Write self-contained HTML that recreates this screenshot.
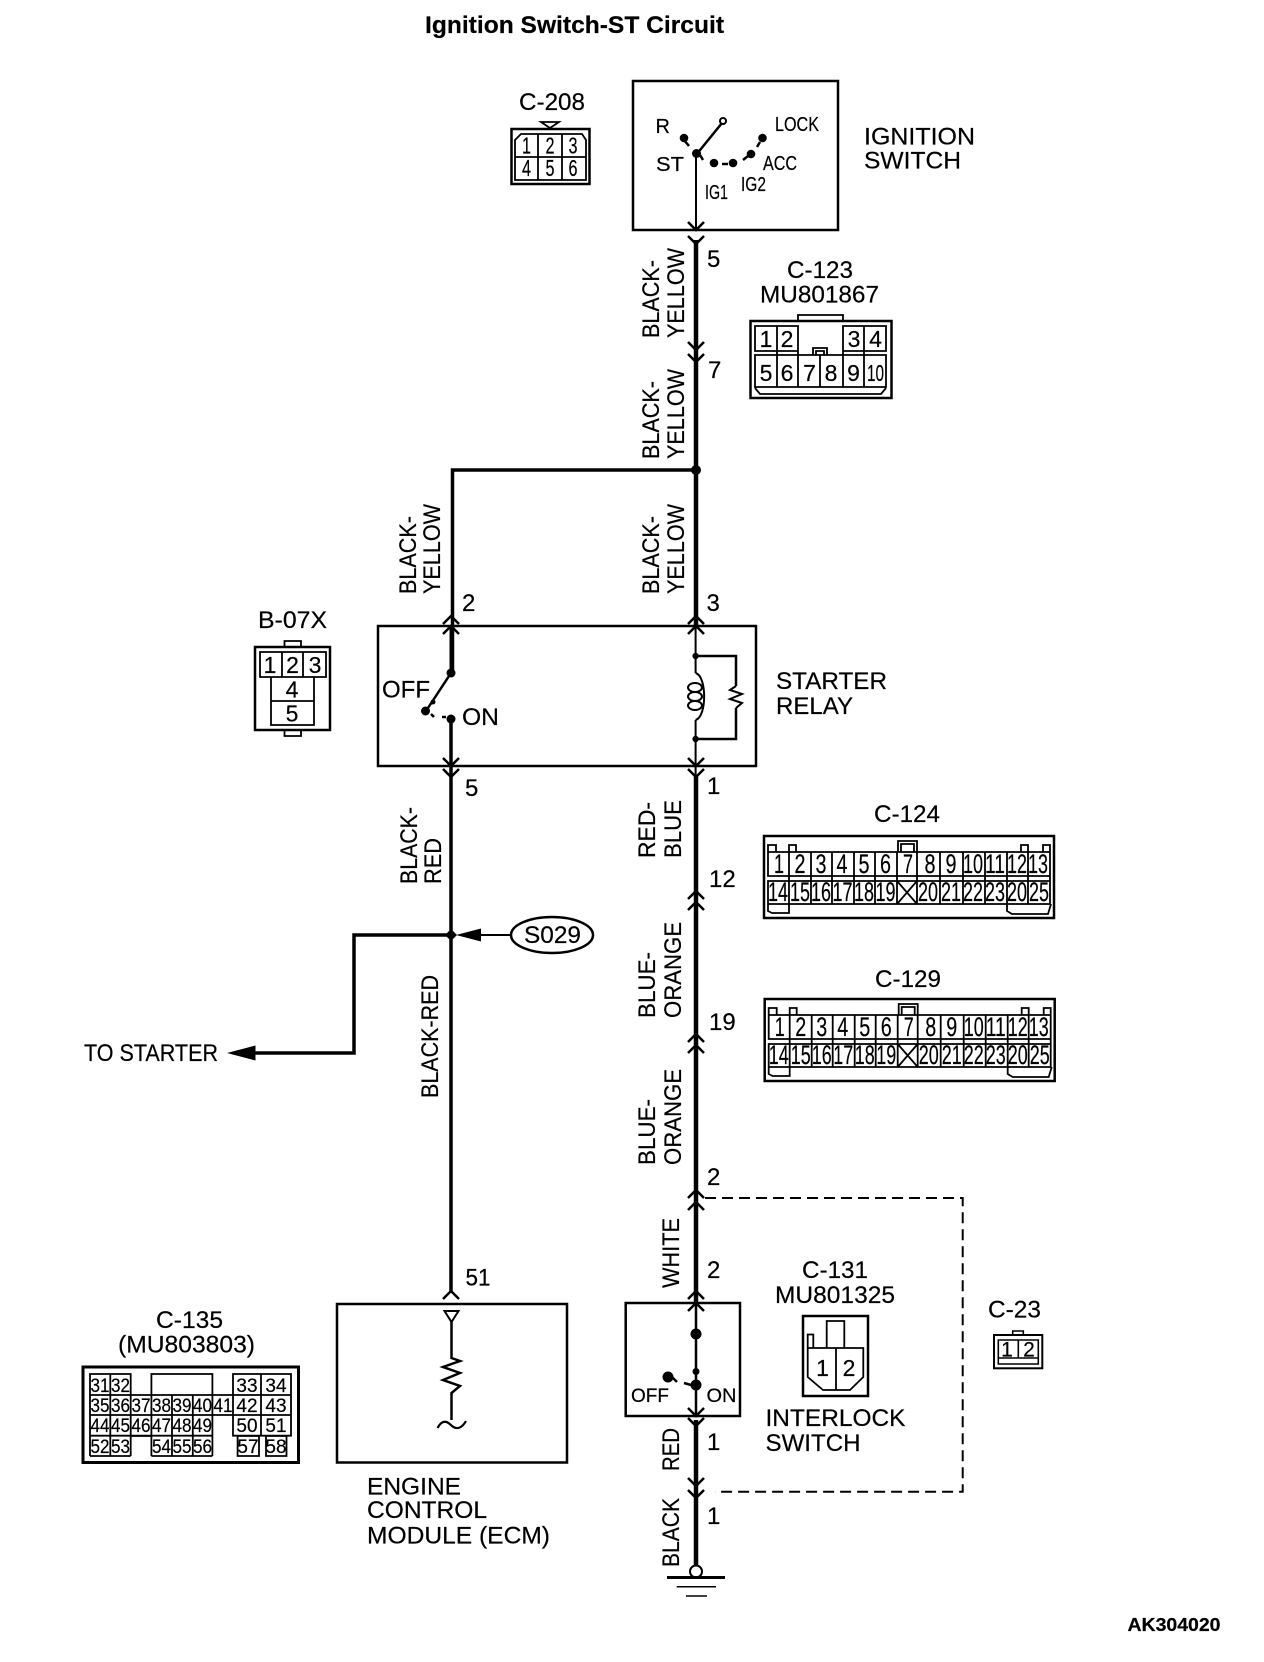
<!DOCTYPE html>
<html><head><meta charset="utf-8"><title>Ignition Switch-ST Circuit</title>
<style>
html,body{margin:0;padding:0;background:#fff}
svg{display:block}
text{font-family:"Liberation Sans",Arial,sans-serif;fill:#000;stroke:#000;stroke-width:.2}
.l{font-size:24px}.m{font-size:20px}.d{font-size:23px;text-anchor:middle}.s{font-size:19px;text-anchor:middle}
.h{font-size:27px;text-anchor:middle}
.g{fill:none;stroke:#000}
</style></head><body>
<svg width="1264" height="1662" viewBox="0 0 1264 1662" xmlns="http://www.w3.org/2000/svg">
<rect width="1264" height="1662" fill="#fff"/>
<text x="425" y="33" font-size="24" font-weight="bold" textLength="299" lengthAdjust="spacingAndGlyphs">Ignition Switch-ST Circuit</text>

<!-- wires -->
<path class="g" stroke-width="4.5" d="M696 240V626M696 776V1303M696 1420V1567"/>
<path class="g" stroke-width="3.5" d="M696 470H452.5V673M451 719V935V1291"/>
<circle cx="696" cy="470" r="5"/>

<!-- chevrons -->
<path class="g" stroke-width="2.5" d="M688 222L696 230L704 222M688 236L696 244L704 236M688 342L696 350L704 342M688 354L696 362L704 354
M443 624L451 616L459 624M443 634L451 626L459 634M688 624L696 616L704 624M688 634L696 626L704 634
M443 758L451 766L459 758M443 769L451 777L459 769M688 758L696 766L704 758M688 769L696 777L704 769
M688 899L696 891L704 899M688 910L696 902L704 910M688 1042L696 1034L704 1042M688 1053L696 1045L704 1053
M688 1198L696 1190L704 1198M688 1210L696 1202L704 1210M688 1299L696 1291L704 1299M688 1311L696 1303L704 1311
M688 1408L696 1416L704 1408M688 1418L696 1426L704 1418M688 1478L696 1486L704 1478M688 1490L696 1498L704 1490
M443 1299L451 1291L459 1299"/>

<!-- ignition switch -->
<rect class="g" stroke-width="2.5" x="633" y="81" width="205" height="149"/>
<path class="g" stroke-width="2" d="M696 153V230"/>
<path class="g" stroke-width="2.5" d="M696 155L722 123M684 140L689 146M700 155L703 160M722 164H728M743 160L748 156M757 147L760 142"/>
<circle cx="696.5" cy="153.5" r="4.5"/><circle cx="684" cy="138" r="4.3"/><circle cx="714" cy="163" r="4.3"/><circle cx="733" cy="163" r="4.3"/><circle cx="751" cy="154" r="4.3"/><circle cx="762.5" cy="138" r="4.3"/>
<circle class="g" fill="#fff" stroke-width="2" cx="723" cy="121" r="3"/>
<text class="m" x="655.5" y="133">R</text>
<text class="m" x="775" y="131" textLength="44" lengthAdjust="spacingAndGlyphs">LOCK</text>
<text class="m" x="656" y="171" textLength="28" lengthAdjust="spacingAndGlyphs">ST</text>
<text class="m" x="763" y="170" textLength="34" lengthAdjust="spacingAndGlyphs">ACC</text>
<text class="m" x="741" y="191" textLength="25" lengthAdjust="spacingAndGlyphs">IG2</text>
<text class="m" x="705" y="199" textLength="23" lengthAdjust="spacingAndGlyphs">IG1</text>
<text class="l" x="864" y="144.5" textLength="111" lengthAdjust="spacingAndGlyphs">IGNITION</text>
<text class="l" x="864" y="168.5" textLength="97" lengthAdjust="spacingAndGlyphs">SWITCH</text>

<!-- C-208 -->
<text class="l" x="519" y="110" textLength="66" lengthAdjust="spacingAndGlyphs">C-208</text>
<path class="g" stroke-width="1.8" d="M541 122H559L550 128Z"/>
<rect class="g" stroke-width="2.5" x="511.5" y="129" width="78" height="55"/>
<path class="g" stroke-width="1.8" d="M515 180V140L521 134H582L586 140V180ZM515 157H586M538 134V180M562 134V180"/>
<text class="d" x="526.5" y="153.5" textLength="9" lengthAdjust="spacingAndGlyphs">1</text>
<text class="d" x="550" y="153.5" textLength="9" lengthAdjust="spacingAndGlyphs">2</text>
<text class="d" x="573" y="153.5" textLength="9" lengthAdjust="spacingAndGlyphs">3</text>
<text class="d" x="526.5" y="176" textLength="9" lengthAdjust="spacingAndGlyphs">4</text>
<text class="d" x="550" y="176" textLength="9" lengthAdjust="spacingAndGlyphs">5</text>
<text class="d" x="573" y="176" textLength="9" lengthAdjust="spacingAndGlyphs">6</text>

<!-- C-123 -->
<text class="l" x="707" y="267">5</text>
<text class="l" x="708" y="378">7</text>
<text class="l" x="787" y="278" textLength="66" lengthAdjust="spacingAndGlyphs">C-123</text>
<text class="l" x="760" y="302.5" textLength="119" lengthAdjust="spacingAndGlyphs">MU801867</text>
<rect class="g" stroke-width="2.5" x="750.5" y="321" width="141" height="77"/>
<path class="g" stroke-width="1.8" d="M798 321V315H843V321M755 326H798V351H755ZM777 326V351M843 326H886V351H843ZM864 326V351M755 355H886V387H755ZM777 351V387M798 351V387M820 355V387M843 351V387M864 351V387M755 388L760 394H881L886 388M813 355V348H827V355M816 355V351H824V355"/>
<text class="d" x="766" y="347">1</text><text class="d" x="787" y="347">2</text><text class="d" x="854" y="347">3</text><text class="d" x="875.5" y="347">4</text>
<text class="d" x="766" y="381">5</text><text class="d" x="787" y="381">6</text><text class="d" x="809.5" y="381">7</text><text class="d" x="831" y="381">8</text><text class="d" x="853.5" y="381">9</text><text class="d" x="875.5" y="381" textLength="17" lengthAdjust="spacingAndGlyphs">10</text>

<!-- rotated wire labels -->
<g>
<text class="l" transform="translate(659,338) rotate(-90)" textLength="78" lengthAdjust="spacingAndGlyphs">BLACK-</text>
<text class="l" transform="translate(684,338) rotate(-90)" textLength="90" lengthAdjust="spacingAndGlyphs">YELLOW</text>
<text class="l" transform="translate(659,459) rotate(-90)" textLength="78" lengthAdjust="spacingAndGlyphs">BLACK-</text>
<text class="l" transform="translate(684,459) rotate(-90)" textLength="90" lengthAdjust="spacingAndGlyphs">YELLOW</text>
<text class="l" transform="translate(659,594) rotate(-90)" textLength="78" lengthAdjust="spacingAndGlyphs">BLACK-</text>
<text class="l" transform="translate(684,594) rotate(-90)" textLength="90" lengthAdjust="spacingAndGlyphs">YELLOW</text>
<text class="l" transform="translate(416,594) rotate(-90)" textLength="78" lengthAdjust="spacingAndGlyphs">BLACK-</text>
<text class="l" transform="translate(440,594) rotate(-90)" textLength="90" lengthAdjust="spacingAndGlyphs">YELLOW</text>
<text class="l" transform="translate(417,884) rotate(-90)" textLength="77" lengthAdjust="spacingAndGlyphs">BLACK-</text>
<text class="l" transform="translate(441,884) rotate(-90)" textLength="46" lengthAdjust="spacingAndGlyphs">RED</text>
<text class="l" transform="translate(438,1098) rotate(-90)" textLength="123" lengthAdjust="spacingAndGlyphs">BLACK-RED</text>
<text class="l" transform="translate(655,858) rotate(-90)" textLength="56" lengthAdjust="spacingAndGlyphs">RED-</text>
<text class="l" transform="translate(681,858) rotate(-90)" textLength="58" lengthAdjust="spacingAndGlyphs">BLUE</text>
<text class="l" transform="translate(655,1018) rotate(-90)" textLength="66" lengthAdjust="spacingAndGlyphs">BLUE-</text>
<text class="l" transform="translate(681,1018) rotate(-90)" textLength="96" lengthAdjust="spacingAndGlyphs">ORANGE</text>
<text class="l" transform="translate(655,1165) rotate(-90)" textLength="66" lengthAdjust="spacingAndGlyphs">BLUE-</text>
<text class="l" transform="translate(681,1165) rotate(-90)" textLength="96" lengthAdjust="spacingAndGlyphs">ORANGE</text>
<text class="l" transform="translate(679,1288) rotate(-90)" textLength="70" lengthAdjust="spacingAndGlyphs">WHITE</text>
<text class="l" transform="translate(679,1471) rotate(-90)" textLength="43" lengthAdjust="spacingAndGlyphs">RED</text>
<text class="l" transform="translate(679,1567) rotate(-90)" textLength="69" lengthAdjust="spacingAndGlyphs">BLACK</text>
</g>

<!-- starter relay -->
<rect class="g" stroke-width="2.5" x="378" y="626" width="378" height="140"/>
<path class="g" stroke-width="3" d="M451 626V673M451 719V777"/>
<path class="g" stroke-width="2.5" d="M451 673L426 711M431 714L434 717M442 717H446"/>
<circle cx="451" cy="673" r="4.5"/><circle cx="425.5" cy="711" r="4.5"/><circle cx="433" cy="702" r="2.5"/><circle cx="451" cy="719" r="4.5"/>
<text class="l" x="382" y="697.5" textLength="48" lengthAdjust="spacingAndGlyphs">OFF</text>
<text class="l" x="462" y="725" textLength="37" lengthAdjust="spacingAndGlyphs">ON</text>
<text class="l" x="462" y="611">2</text><text class="l" x="706.5" y="611">3</text>
<text class="l" x="465" y="796">5</text><text class="l" x="707" y="794">1</text>
<path class="g" stroke-width="2" d="M695.6 626V673M695.6 720V777"/>
<path class="g" stroke-width="2.5" d="M695.6 656H736V686M736 708V739H695.6"/>
<path class="g" stroke-width="2" d="M695.6 673C707 676 707 717 695.6 720M736 686L730 690L742 694L730 699L742 703L736 708"/>
<ellipse class="g" stroke-width="2" cx="695" cy="687.5" rx="7" ry="4.5"/><ellipse class="g" stroke-width="2" cx="695" cy="696.5" rx="7" ry="4.5"/><ellipse class="g" stroke-width="2" cx="695" cy="705.5" rx="7" ry="4.5"/>
<circle cx="695.6" cy="656" r="3.2"/><circle cx="695.6" cy="739" r="3.2"/>
<text class="l" x="776" y="689" textLength="111" lengthAdjust="spacingAndGlyphs">STARTER</text>
<text class="l" x="776" y="714" textLength="77" lengthAdjust="spacingAndGlyphs">RELAY</text>

<!-- B-07X -->
<text class="l" x="258" y="628" textLength="69" lengthAdjust="spacingAndGlyphs">B-07X</text>
<rect class="g" stroke-width="2.5" x="255" y="647" width="75" height="83"/>
<path class="g" stroke-width="1.8" d="M284.5 647V641H301V647M284.5 730V736H301V730M260 652H326V677H260ZM282 652V677M303 652V677M271 677V725H314V677M271 701H314"/>
<text class="d" x="270" y="673">1</text><text class="d" x="292.5" y="673">2</text><text class="d" x="315" y="673">3</text>
<text class="d" x="292" y="697.5">4</text><text class="d" x="292" y="721.5">5</text>

<!-- C-124 -->
<text class="l" x="874" y="822" textLength="66" lengthAdjust="spacingAndGlyphs">C-124</text>
<g>
<rect class="g" stroke-width="2.5" x="764" y="836" width="290" height="82"/>
<path class="g" stroke-width="1.8" d="M768 852V845H776V852M789 852V845H796V852M1021 852V845H1028V852M1043 852V845H1050V852M898 852V841H917V852M901 852V844H914V852
M768 852H1050V876H768ZM768 881H1050V904H768ZM789 852V904M811 852V904M832 852V904M854 852V904M875 852V904M897 852V904M917 852V904M940 852V904M963 852V904M985 852V904M1007 852V904M1028 852V904M1050 852V904M897 881L917 904M917 881L897 904
M768 904V911L772 913H789V904M1007 904V911L1012 914H1048L1051 904"/>
<text class="h" x="779" y="873" textLength="10" lengthAdjust="spacingAndGlyphs">1</text><text class="h" x="800" y="873" textLength="11" lengthAdjust="spacingAndGlyphs">2</text><text class="h" x="821" y="873" textLength="11" lengthAdjust="spacingAndGlyphs">3</text><text class="h" x="842" y="873" textLength="11" lengthAdjust="spacingAndGlyphs">4</text><text class="h" x="864" y="873" textLength="11" lengthAdjust="spacingAndGlyphs">5</text><text class="h" x="885.5" y="873" textLength="11" lengthAdjust="spacingAndGlyphs">6</text><text class="h" x="908" y="873" textLength="10" lengthAdjust="spacingAndGlyphs">7</text><text class="h" x="930" y="873" textLength="11" lengthAdjust="spacingAndGlyphs">8</text><text class="h" x="951" y="873" textLength="11" lengthAdjust="spacingAndGlyphs">9</text><text class="h" x="973" y="873" textLength="20" lengthAdjust="spacingAndGlyphs">10</text><text class="h" x="995" y="873" textLength="20" lengthAdjust="spacingAndGlyphs">11</text><text class="h" x="1017" y="873" textLength="20" lengthAdjust="spacingAndGlyphs">12</text><text class="h" x="1038" y="873" textLength="20" lengthAdjust="spacingAndGlyphs">13</text>
<text class="h" x="778" y="901" textLength="20" lengthAdjust="spacingAndGlyphs">14</text><text class="h" x="800" y="901" textLength="20" lengthAdjust="spacingAndGlyphs">15</text><text class="h" x="821" y="901" textLength="20" lengthAdjust="spacingAndGlyphs">16</text><text class="h" x="842.5" y="901" textLength="20" lengthAdjust="spacingAndGlyphs">17</text><text class="h" x="864" y="901" textLength="20" lengthAdjust="spacingAndGlyphs">18</text><text class="h" x="885.5" y="901" textLength="20" lengthAdjust="spacingAndGlyphs">19</text><text class="h" x="928" y="901" textLength="20" lengthAdjust="spacingAndGlyphs">20</text><text class="h" x="951" y="901" textLength="20" lengthAdjust="spacingAndGlyphs">21</text><text class="h" x="973" y="901" textLength="20" lengthAdjust="spacingAndGlyphs">22</text><text class="h" x="995" y="901" textLength="20" lengthAdjust="spacingAndGlyphs">23</text><text class="h" x="1017" y="901" textLength="20" lengthAdjust="spacingAndGlyphs">20</text><text class="h" x="1039" y="901" textLength="20" lengthAdjust="spacingAndGlyphs">25</text>
</g>

<!-- C-129 -->
<text class="l" x="875" y="987" textLength="66" lengthAdjust="spacingAndGlyphs">C-129</text>
<g transform="translate(0.7,163)">
<rect class="g" stroke-width="2.5" x="764" y="836" width="290" height="82"/>
<path class="g" stroke-width="1.8" d="M768 852V845H776V852M789 852V845H796V852M1021 852V845H1028V852M1043 852V845H1050V852M898 852V841H917V852M901 852V844H914V852
M768 852H1050V876H768ZM768 881H1050V904H768ZM789 852V904M811 852V904M832 852V904M854 852V904M875 852V904M897 852V904M917 852V904M940 852V904M963 852V904M985 852V904M1007 852V904M1028 852V904M1050 852V904M897 881L917 904M917 881L897 904
M768 904V911L772 913H789V904M1007 904V911L1012 914H1048L1051 904"/>
<text class="h" x="779" y="873" textLength="10" lengthAdjust="spacingAndGlyphs">1</text><text class="h" x="800" y="873" textLength="11" lengthAdjust="spacingAndGlyphs">2</text><text class="h" x="821" y="873" textLength="11" lengthAdjust="spacingAndGlyphs">3</text><text class="h" x="842" y="873" textLength="11" lengthAdjust="spacingAndGlyphs">4</text><text class="h" x="864" y="873" textLength="11" lengthAdjust="spacingAndGlyphs">5</text><text class="h" x="885.5" y="873" textLength="11" lengthAdjust="spacingAndGlyphs">6</text><text class="h" x="908" y="873" textLength="10" lengthAdjust="spacingAndGlyphs">7</text><text class="h" x="930" y="873" textLength="11" lengthAdjust="spacingAndGlyphs">8</text><text class="h" x="951" y="873" textLength="11" lengthAdjust="spacingAndGlyphs">9</text><text class="h" x="973" y="873" textLength="20" lengthAdjust="spacingAndGlyphs">10</text><text class="h" x="995" y="873" textLength="20" lengthAdjust="spacingAndGlyphs">11</text><text class="h" x="1017" y="873" textLength="20" lengthAdjust="spacingAndGlyphs">12</text><text class="h" x="1038" y="873" textLength="20" lengthAdjust="spacingAndGlyphs">13</text>
<text class="h" x="778" y="901" textLength="20" lengthAdjust="spacingAndGlyphs">14</text><text class="h" x="800" y="901" textLength="20" lengthAdjust="spacingAndGlyphs">15</text><text class="h" x="821" y="901" textLength="20" lengthAdjust="spacingAndGlyphs">16</text><text class="h" x="842.5" y="901" textLength="20" lengthAdjust="spacingAndGlyphs">17</text><text class="h" x="864" y="901" textLength="20" lengthAdjust="spacingAndGlyphs">18</text><text class="h" x="885.5" y="901" textLength="20" lengthAdjust="spacingAndGlyphs">19</text><text class="h" x="928" y="901" textLength="20" lengthAdjust="spacingAndGlyphs">20</text><text class="h" x="951" y="901" textLength="20" lengthAdjust="spacingAndGlyphs">21</text><text class="h" x="973" y="901" textLength="20" lengthAdjust="spacingAndGlyphs">22</text><text class="h" x="995" y="901" textLength="20" lengthAdjust="spacingAndGlyphs">23</text><text class="h" x="1017" y="901" textLength="20" lengthAdjust="spacingAndGlyphs">20</text><text class="h" x="1039" y="901" textLength="20" lengthAdjust="spacingAndGlyphs">25</text>
</g>
<text class="l" x="709" y="887">12</text>
<text class="l" x="709" y="1030">19</text>
<text class="l" x="707" y="1185">2</text>
<text class="l" x="707" y="1278">2</text>
<text class="l" x="707" y="1450">1</text>
<text class="l" x="707" y="1524">1</text>

<!-- S029 & to starter -->
<path class="g" stroke-width="3.5" d="M451 935H354V1053H250"/>
<path d="M451 929L457 935L451 941L445 935Z"/>
<path d="M456 935L481 928.5V941.5Z"/>
<path class="g" stroke-width="2" d="M480 935H511"/>
<ellipse class="g" stroke-width="2.5" cx="552" cy="935" rx="41" ry="18"/>
<text class="l" x="524" y="943" textLength="57" lengthAdjust="spacingAndGlyphs">S029</text>
<path d="M227 1053L255.5 1045.5V1060.5Z"/>
<text class="l" x="84" y="1061" textLength="134" lengthAdjust="spacingAndGlyphs">TO STARTER</text>

<!-- C-135 -->
<text class="l" x="156" y="1328" textLength="67" lengthAdjust="spacingAndGlyphs">C-135</text>
<text class="l" x="118" y="1352.5" textLength="137" lengthAdjust="spacingAndGlyphs">(MU803803)</text>
<rect class="g" stroke-width="3" x="83" y="1367" width="215.5" height="95.5"/>
<path class="g" stroke-width="1.8" d="M90 1374H130.7V1395H90ZM110.3 1374V1395M151.4 1374H212.4V1395H151.4ZM233 1374H291V1435.7H233ZM261 1374V1435.7M233 1395H291M233 1415H291
M90 1395H233M90 1415H233M90 1395V1456M110.3 1395V1456M130.7 1395V1456M151.4 1395V1456M172 1395V1456M192.8 1395V1456M212.4 1395V1456M233 1395V1415M90 1435.7H212.4M90 1456H130.7M151.4 1456H212.4M130.7 1436H151.4
M237.6 1436H259V1456H237.6ZM266 1436H286.5V1456H266Z"/>
<text class="s" x="100" y="1392" textLength="19" lengthAdjust="spacingAndGlyphs">31</text><text class="s" x="120.5" y="1392" textLength="19" lengthAdjust="spacingAndGlyphs">32</text><text class="s" x="247" y="1392">33</text><text class="s" x="276" y="1392">34</text>
<text class="s" x="100" y="1412" textLength="19" lengthAdjust="spacingAndGlyphs">35</text><text class="s" x="120.5" y="1412" textLength="19" lengthAdjust="spacingAndGlyphs">36</text><text class="s" x="141" y="1412" textLength="19" lengthAdjust="spacingAndGlyphs">37</text><text class="s" x="161.5" y="1412" textLength="19" lengthAdjust="spacingAndGlyphs">38</text><text class="s" x="182" y="1412" textLength="19" lengthAdjust="spacingAndGlyphs">39</text><text class="s" x="202.5" y="1412" textLength="19" lengthAdjust="spacingAndGlyphs">40</text><text class="s" x="223" y="1412" textLength="19" lengthAdjust="spacingAndGlyphs">41</text><text class="s" x="247" y="1412">42</text><text class="s" x="276" y="1412">43</text>
<text class="s" x="100" y="1432" textLength="19" lengthAdjust="spacingAndGlyphs">44</text><text class="s" x="120.5" y="1432" textLength="19" lengthAdjust="spacingAndGlyphs">45</text><text class="s" x="141" y="1432" textLength="19" lengthAdjust="spacingAndGlyphs">46</text><text class="s" x="161.5" y="1432" textLength="19" lengthAdjust="spacingAndGlyphs">47</text><text class="s" x="182" y="1432" textLength="19" lengthAdjust="spacingAndGlyphs">48</text><text class="s" x="202.5" y="1432" textLength="19" lengthAdjust="spacingAndGlyphs">49</text><text class="s" x="247" y="1432">50</text><text class="s" x="276" y="1432">51</text>
<text class="s" x="100" y="1453" textLength="19" lengthAdjust="spacingAndGlyphs">52</text><text class="s" x="120.5" y="1453" textLength="19" lengthAdjust="spacingAndGlyphs">53</text><text class="s" x="161.5" y="1453" textLength="19" lengthAdjust="spacingAndGlyphs">54</text><text class="s" x="182" y="1453" textLength="19" lengthAdjust="spacingAndGlyphs">55</text><text class="s" x="202.5" y="1453" textLength="19" lengthAdjust="spacingAndGlyphs">56</text><text class="s" x="248" y="1453">57</text><text class="s" x="276" y="1453">58</text>

<!-- ECM -->
<rect class="g" stroke-width="2.5" x="337" y="1304" width="230" height="158.5"/>
<text class="l" x="465.5" y="1285.5" textLength="25" lengthAdjust="spacingAndGlyphs">51</text>
<path class="g" stroke-width="2" d="M444.5 1311H458.5L451.5 1322Z"/>
<path class="g" stroke-width="2.5" d="M451.5 1322V1358L460 1361L443 1367L460 1373L443 1380L460 1386L451.5 1393V1420"/>
<path class="g" stroke-width="2.2" d="M437.5 1428C443 1418 448 1422 452 1426C457 1430 462 1428 466 1421"/>
<text class="l" x="367" y="1494.5" textLength="94" lengthAdjust="spacingAndGlyphs">ENGINE</text>
<text class="l" x="367" y="1518" textLength="120" lengthAdjust="spacingAndGlyphs">CONTROL</text>
<text class="l" x="367" y="1543.5" textLength="183" lengthAdjust="spacingAndGlyphs">MODULE (ECM)</text>

<!-- interlock -->
<path class="g" stroke-width="2" stroke-dasharray="11 6" d="M705 1198H962.7V1491.7H715"/>
<rect class="g" stroke-width="2.5" x="625.7" y="1303" width="114.3" height="113"/>
<path class="g" stroke-width="2.5" d="M696 1303V1416M673 1378L677 1382M684 1383L691 1385"/>
<circle cx="696" cy="1334" r="5.5"/><circle cx="696" cy="1371.5" r="3.5"/><circle cx="696" cy="1385" r="5.5"/><circle cx="668" cy="1377" r="5.5"/>
<text x="631" y="1402" font-size="19" textLength="38" lengthAdjust="spacingAndGlyphs">OFF</text>
<text x="706.5" y="1402" font-size="19" textLength="30" lengthAdjust="spacingAndGlyphs">ON</text>

<!-- ground -->
<circle cx="696" cy="1571.5" r="6" fill="#fff" stroke="#000" stroke-width="2"/>
<path class="g" stroke-width="3" d="M667 1577.5H725"/>
<path class="g" stroke-width="1.5" d="M676.7 1586.7H716M686 1596H707"/>

<!-- C-131 -->
<text class="l" x="802" y="1278" textLength="66" lengthAdjust="spacingAndGlyphs">C-131</text>
<text class="l" x="775" y="1303" textLength="120" lengthAdjust="spacingAndGlyphs">MU801325</text>
<rect class="g" stroke-width="2.5" x="803" y="1316" width="65" height="80"/>
<path class="g" stroke-width="1.8" d="M826.7 1348V1321H844.3V1348M807.7 1348V1334.5H813.3V1348M807.7 1348H863.3V1377L850 1390H823L807.7 1377ZM836 1348V1390"/>
<text class="d" x="822.5" y="1376">1</text><text class="d" x="849" y="1376">2</text>
<text class="l" x="765.5" y="1426" textLength="140" lengthAdjust="spacingAndGlyphs">INTERLOCK</text>
<text class="l" x="765.5" y="1451" textLength="95" lengthAdjust="spacingAndGlyphs">SWITCH</text>

<!-- C-23 -->
<text class="l" x="988" y="1317.5" textLength="53" lengthAdjust="spacingAndGlyphs">C-23</text>
<rect class="g" stroke-width="2" x="994" y="1335" width="48.3" height="33.3"/>
<path class="g" stroke-width="1.6" d="M1012.7 1335V1331H1023.3V1335M998.3 1340H1038.3V1364H998.3ZM998.3 1358H1038.3M1018.3 1340V1358"/>
<text x="1007" y="1356.5" font-size="21" text-anchor="middle">1</text><text x="1029" y="1356.5" font-size="21" text-anchor="middle">2</text>

<text x="1127.5" y="1631" font-size="18.5" font-weight="bold" textLength="93" lengthAdjust="spacingAndGlyphs">AK304020</text>
</svg>
</body></html>
